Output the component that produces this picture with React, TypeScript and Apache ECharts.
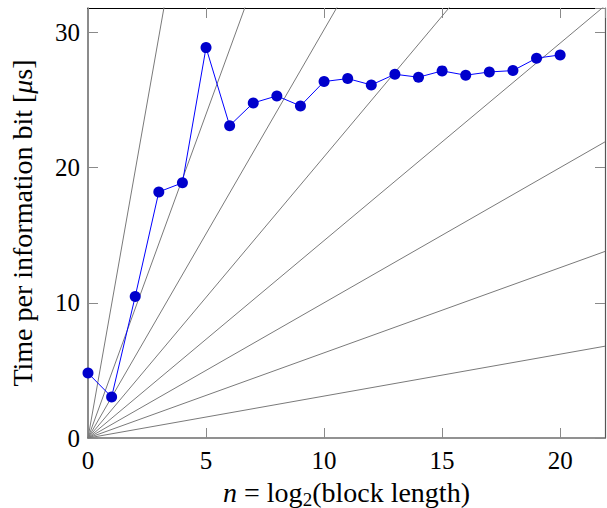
import React, { useEffect, useRef } from "react";
import * as echarts from "echarts";

// Measured series: time per information bit (µs) vs n = log2(block length)
const nValues = [0, 1, 2, 3, 4, 5, 6, 7, 8, 9, 10, 11, 12, 13, 14, 15, 16, 17, 18, 19, 20];
const timePerBit = [4.8, 3.03, 10.47, 18.2, 18.87, 28.87, 23.1, 24.78, 25.3, 24.56, 26.36, 26.58, 26.11, 26.9, 26.68, 27.15, 26.83, 27.07, 27.17, 28.09, 28.33];

// Slopes of the grey reference rays through the origin (data units)
const fanSlopes = [0.31, 0.63, 1.0, 1.46, 2.08, 3.02, 4.79, 9.89];

// Axis ranges and ticks
const xMin = 0;
const xMax = 21.9;
const xInterval = 5;
const yMin = 0;
const yMax = 31.8;
const yInterval = 10;

const FONT = "Liberation Serif";

export default function App() {
  const ref = useRef<HTMLDivElement>(null);

  useEffect(() => {
    if (!ref.current) return;
    const chart = echarts.init(ref.current, undefined, { renderer: "svg" });

    const fanSeries = fanSlopes.map((s, i) => ({
      type: "line",
      name: "ray" + i,
      xAxisIndex: 0,
      yAxisIndex: 0,
      data: [
        [0, 0],
        [xMax, s * xMax],
      ],
      showSymbol: false,
      symbol: "none",
      clip: true,
      silent: true,
      lineStyle: { color: "#7a7a7a", width: 1 },
      z: 1,
    }));

    const tickCommon = {
      show: true,
      inside: true,
      length: 10,
      lineStyle: { color: "#8a8a8a", width: 1 },
    };

    chart.setOption({
      animation: false,
      backgroundColor: "#ffffff",
      grid: {
        left: 88,
        top: 8,
        right: 2,
        bottom: 70,
        containLabel: false,
        outerBoundsMode: "none",
      },
      xAxis: [
        {
          type: "value",
          position: "bottom",
          min: xMin,
          max: xMax,
          interval: xInterval,
          axisLine: { show: true, lineStyle: { color: "#6e6e6e", width: 1.6 } },
          axisTick: tickCommon,
          axisLabel: {
            show: true,
            fontFamily: FONT,
            fontSize: 25,
            color: "#000",
            margin: 10,
            showMaxLabel: false,
          },
          splitLine: { show: false },
          name: "{i|n}{a| = log}{s|2}{a|(block length)}",
          nameLocation: "middle",
          nameGap: 37,
          nameTextStyle: {
            fontFamily: FONT,
            fontSize: 28,
            color: "#000",
            rich: {
              a: { fontFamily: FONT, fontSize: 28, lineHeight: 34, color: "#000" },
              i: { fontFamily: FONT, fontSize: 28, lineHeight: 34, fontStyle: "italic", color: "#000" },
              s: { fontFamily: FONT, fontSize: 19, lineHeight: 19, verticalAlign: "bottom", color: "#000" },
            },
          },
        },
        {
          type: "value",
          position: "top",
          min: xMin,
          max: xMax,
          interval: xInterval,
          axisLine: { show: true, onZero: false, lineStyle: { color: "#000", width: 1.2 } },
          axisTick: tickCommon,
          axisLabel: { show: false },
          splitLine: { show: false },
        },
      ],
      yAxis: [
        {
          type: "value",
          position: "left",
          min: yMin,
          max: yMax,
          interval: yInterval,
          axisLine: { show: true, lineStyle: { color: "#6e6e6e", width: 1.6 } },
          axisTick: tickCommon,
          axisLabel: {
            show: true,
            fontFamily: FONT,
            fontSize: 25,
            color: "#000",
            margin: 8,
            showMaxLabel: false,
          },
          splitLine: { show: false },
          name: "{a|Time per information bit [}{i|μ}{a|s]}",
          nameLocation: "middle",
          nameGap: 52,
          nameRotate: 90,
          nameTextStyle: {
            fontFamily: FONT,
            fontSize: 28,
            color: "#000",
            rich: {
              a: { fontFamily: FONT, fontSize: 28, color: "#000" },
              i: { fontFamily: FONT, fontSize: 28, fontStyle: "italic", color: "#000" },
            },
          },
        },
        {
          type: "value",
          position: "right",
          min: yMin,
          max: yMax,
          interval: yInterval,
          axisLine: { show: true, onZero: false, lineStyle: { color: "#555", width: 1.2 } },
          axisTick: tickCommon,
          axisLabel: { show: false },
          splitLine: { show: false },
        },
      ],
      series: [
        ...fanSeries,
        {
          type: "line",
          name: "time",
          xAxisIndex: 0,
          yAxisIndex: 0,
          data: nValues.map((n, i) => [n, timePerBit[i]]),
          symbol: "circle",
          symbolSize: 11,
          showSymbol: true,
          lineStyle: { color: "#0000ff", width: 1 },
          itemStyle: { color: "#0000cc", borderWidth: 0 },
          z: 5,
        },
      ],
    });

    return () => chart.dispose();
  }, []);

  return (
    <div
      ref={ref}
      style={{ position: "fixed", left: 0, top: 0, width: 607, height: 508 }}
    />
  );
}
